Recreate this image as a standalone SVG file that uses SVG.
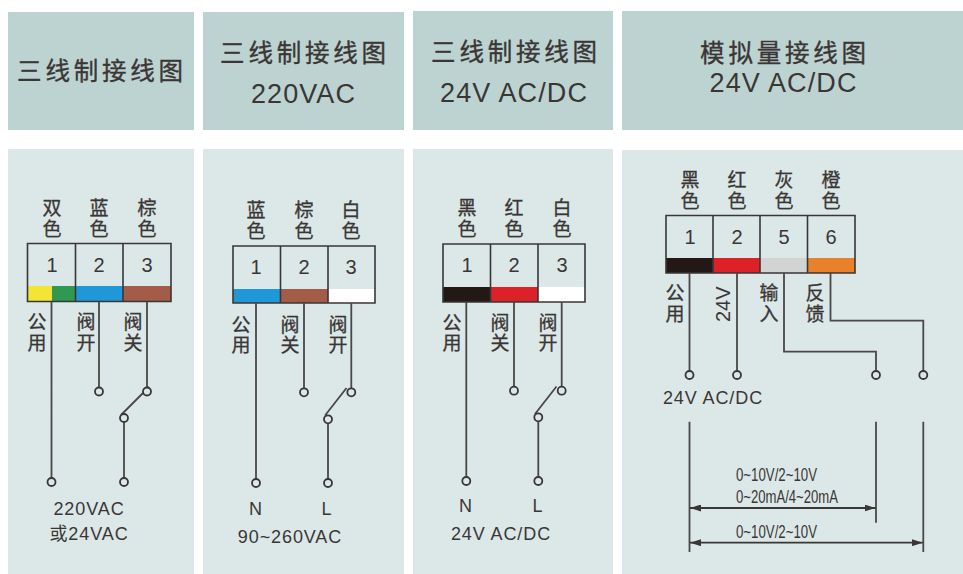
<svg xmlns="http://www.w3.org/2000/svg" width="963" height="574" viewBox="0 0 963 574">
<style>
.h{fill:#bdd3d1}.b{fill:#dce8e8}
text{font-family:"Liberation Sans","Noto Sans CJK SC",sans-serif;fill:#3a3635}
.c{font-family:"Noto Sans CJK SC","Liberation Sans",sans-serif;font-size:19px;writing-mode:vertical-rl;letter-spacing:2px;stroke:#3a3635;stroke-width:.3}
.c2{letter-spacing:1px}
.t{font-family:"Noto Sans CJK SC","Liberation Sans",sans-serif;font-size:24.500px;text-anchor:middle;letter-spacing:3.800px;stroke:#3a3635;stroke-width:.35}
.e{font-size:27px;text-anchor:middle;letter-spacing:1.100px}
.n{font-size:20px;text-anchor:middle}
.l{font-size:18px;text-anchor:middle;letter-spacing:.9px}
.s{font-size:19px}
.box{fill:none;stroke:#3a3635;stroke-width:1.6}
.w{fill:none;stroke:#4a4746;stroke-width:1.8}
.p{fill:#dce8e8;stroke:#3a3635;stroke-width:1.8}
.a{fill:none;stroke:#3a3635;stroke-width:1.8;marker-start:url(#ah);marker-end:url(#ah)}
</style>
<defs><marker id="ah" viewBox="0 0 11 7" refX="11" refY="3.500" markerWidth="11" markerHeight="7" markerUnits="userSpaceOnUse" orient="auto-start-reverse"><path d="M0 0L11 3.500L0 7Z" fill="#3a3635"/></marker></defs>
<rect width="963" height="574" fill="#fff"/>
<g id="panel1">
<rect class="h" x="8" y="12" width="186" height="118"/><rect class="b" x="8" y="149" width="186" height="425"/>
<text class="t" x="102" y="80">三线制接线图</text>
<text class="c" x="52" y="198.500">双色</text>
<text class="c" x="99" y="198.500">蓝色</text>
<text class="c" x="147" y="198.500">棕色</text>
<rect x="28" y="286" width="24" height="16" fill="#f2e536"/><rect x="52" y="286" width="23.500" height="16" fill="#2f9a4f"/><rect x="75.500" y="286" width="47.500" height="16" fill="#1f97d8"/><rect x="123" y="286" width="48" height="16" fill="#a35c48"/>
<path class="box" d="M27.500 243.500H171V301.500H27.500ZM75.500 243.500V301.500M123 243.500V301.500"/>
<text class="n" x="52" y="272">1</text><text class="n" x="99" y="272">2</text><text class="n" x="147" y="272">3</text>
<text class="c" x="37" y="312.500">公用</text>
<text class="c" x="86" y="312.500">阀开</text>
<text class="c" x="133" y="312.500">阀关</text>
<text class="l" x="89" y="515">220VAC</text><text class="l" x="89" y="540">或24VAC</text>
</g>
<g id="panel2">
<rect class="h" x="203" y="12" width="201" height="118"/><rect class="b" x="203" y="149" width="201" height="425"/>
<text class="t" x="305" y="62">三线制接线图</text>
<text class="e" x="303.500" y="103">220VAC</text>
<text class="c" x="256" y="200.500">蓝色</text>
<text class="c" x="304" y="200.500">棕色</text>
<text class="c" x="351" y="200.500">白色</text>
<rect x="233" y="289" width="47.500" height="14" fill="#1f97d8"/><rect x="280.500" y="289" width="47.500" height="14" fill="#a35c48"/><rect x="328" y="289" width="47" height="14" fill="#fff"/>
<path class="box" d="M233 246H375V303H233ZM280.500 246V303M328 246V303"/>
<text class="n" x="256" y="274">1</text><text class="n" x="304" y="274">2</text><text class="n" x="351" y="274">3</text>
<text class="c c2" x="241" y="315.500">公用</text>
<text class="c c2" x="290" y="315.500">阀关</text>
<text class="c c2" x="338" y="315.500">阀开</text>
<text class="l" x="256" y="515">N</text><text class="l" x="327" y="515">L</text>
<text class="l" x="290" y="543">90~260VAC</text>
</g>
<g id="panel3">
<rect class="h" x="413" y="11" width="200" height="119"/><rect class="b" x="413" y="149" width="200" height="425"/>
<text class="t" x="516" y="61">三线制接线图</text>
<text class="e" x="514" y="102">24V AC/DC</text>
<text class="c" x="467" y="198.500">黑色</text>
<text class="c" x="514" y="198.500">红色</text>
<text class="c" x="562" y="198.500">白色</text>
<rect x="443" y="287" width="47.500" height="15" fill="#231815"/><rect x="490.500" y="287" width="47.500" height="15" fill="#dd2128"/><rect x="538" y="287" width="47" height="15" fill="#fff"/>
<path class="box" d="M443 244H585V302H443ZM490.500 244V302M538 244V302"/>
<text class="n" x="467" y="272">1</text><text class="n" x="514" y="272">2</text><text class="n" x="562" y="272">3</text>
<text class="c c2" x="452" y="313.500">公用</text>
<text class="c c2" x="500" y="313.500">阀关</text>
<text class="c c2" x="548" y="313.500">阀开</text>
<text class="l" x="466" y="512">N</text><text class="l" x="538" y="512">L</text>
<text class="l" x="501" y="540">24V AC/DC</text>
</g>
<g id="panel4">
<rect class="h" x="622" y="11" width="341" height="119"/><rect class="b" x="622" y="150" width="341" height="424"/>
<text class="t" x="785" y="62">模拟量接线图</text>
<text class="e" x="783.500" y="92">24V AC/DC</text>
<text class="c" x="690" y="170.500">黑色</text>
<text class="c" x="737" y="170.500">红色</text>
<text class="c" x="784" y="170.500">灰色</text>
<text class="c" x="831" y="170.500">橙色</text>
<rect x="666" y="258" width="47" height="15" fill="#231815"/><rect x="713" y="258" width="47" height="15" fill="#dd2128"/><rect x="760" y="258" width="47.500" height="15" fill="#d2d3d3"/><rect x="807.500" y="258" width="47.500" height="15" fill="#e8802c"/>
<path class="box" d="M666 215.500H855V273H666ZM713 215.500V273M760 215.500V273M807.500 215.500V273"/>
<text class="n" x="690" y="244">1</text><text class="n" x="737" y="244">2</text><text class="n" x="784" y="244">5</text><text class="n" x="831" y="244">6</text>
<text class="c" x="675" y="283.500">公用</text>
<text class="c" x="769" y="283.500">输入</text>
<text class="c" x="815" y="283.500">反馈</text>
<text class="n" transform="translate(730,322) rotate(-90)" style="text-anchor:start">24V</text>
<text class="l" x="713" y="404">24V AC/DC</text>
<text class="s" x="736" y="481" textLength="81" lengthAdjust="spacingAndGlyphs">0~10V/2~10V</text>
<text class="s" x="736" y="503" textLength="102" lengthAdjust="spacingAndGlyphs">0~20mA/4~20mA</text>
<text class="s" x="736" y="537.500" textLength="81" lengthAdjust="spacingAndGlyphs">0~10V/2~10V</text>
</g>
<g id="connectors">
<path class="w" d="M51.500 302V478M99 302V388M147 302V388M149 387L121 415M124 422V478"/>
<circle class="p" cx="99" cy="391.500" r="4"/><circle class="p" cx="147" cy="391.500" r="4"/><circle class="p" cx="124" cy="418" r="4"/><circle class="p" cx="51.500" cy="482" r="4"/><circle class="p" cx="124" cy="482" r="4"/>
<path class="w" d="M256 303V479M304 303V388M351.300 303V388M346.500 388L325 415.500M328 423V479"/>
<circle class="p" cx="304" cy="392.300" r="4"/><circle class="p" cx="351.300" cy="392.300" r="4"/><circle class="p" cx="328" cy="419.300" r="4"/><circle class="p" cx="256" cy="483" r="4"/><circle class="p" cx="328" cy="483" r="4"/>
<path class="w" d="M466.300 302V477M514 302V387M561.700 302V387M556.500 386.500L535 414M538.300 421V477"/>
<circle class="p" cx="514" cy="390.700" r="4"/><circle class="p" cx="561.700" cy="390.700" r="4"/><circle class="p" cx="538.300" cy="417.300" r="4"/><circle class="p" cx="466.300" cy="481" r="4"/><circle class="p" cx="538.300" cy="481" r="4"/>
<path class="w" d="M689.500 273V371M737 273V371M784 273V351.700H876V371M830.500 273V320.700H923.300V371"/>
<circle class="p" cx="689.500" cy="375" r="4"/><circle class="p" cx="737" cy="375" r="4"/><circle class="p" cx="876" cy="375" r="4"/><circle class="p" cx="923.300" cy="375" r="4"/>
<path class="w" d="M689.500 421.700V552M876 421.700V522.700M923.300 421.700V552"/>
<path class="a" d="M690 508H875.500"/><path class="a" d="M690 542.700H922.800"/>
</g>
</svg>
